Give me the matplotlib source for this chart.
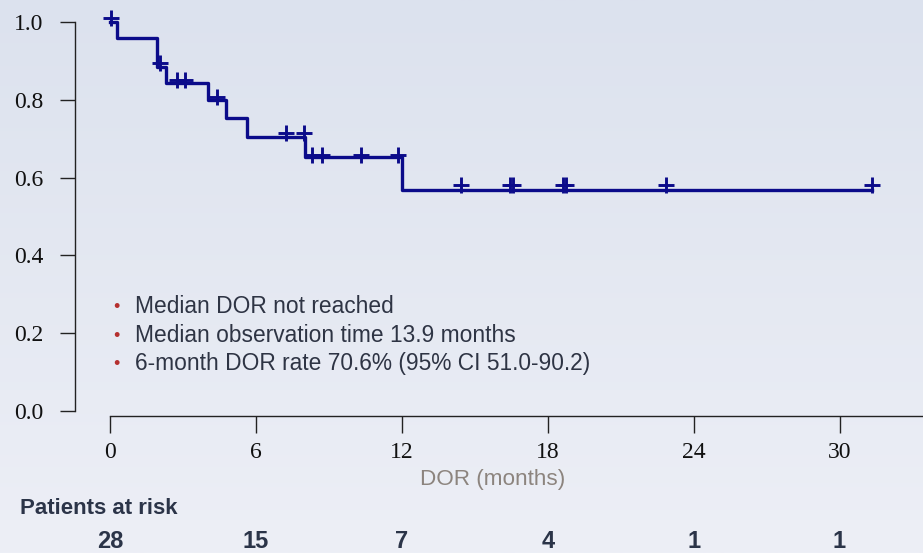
import matplotlib
matplotlib.use("Agg")
import matplotlib.pyplot as plt
import matplotlib.transforms as mtransforms
import numpy as np

# Kaplan-Meier step curve
step_times = [0, 0.27, 1.94, 2.30, 4.04, 4.79, 5.62, 8.01, 11.99, 31.33]
step_surv = [1.0, 0.960, 0.885, 0.842, 0.800, 0.752, 0.705, 0.654, 0.568, 0.568]

# censored observations
cens_times = [0.04, 2.06, 2.74, 3.08, 4.38, 7.23, 7.97, 8.32, 8.73, 10.34,
              11.85, 14.45, 16.45, 16.57, 18.64, 18.76, 22.88, 31.33]
cens_surv = [1.01, 0.895, 0.851, 0.851, 0.808, 0.714, 0.714, 0.658, 0.658,
             0.658, 0.658, 0.581, 0.581, 0.581, 0.581, 0.581, 0.581, 0.581]

xticks = [0, 6, 12, 18, 24, 30]
yticks = [0.0, 0.2, 0.4, 0.6, 0.8, 1.0]
at_risk = [28, 15, 7, 4, 1, 1]
notes = ["Median DOR not reached",
         "Median observation time 13.9 months",
         "6-month DOR rate 70.6% (95% CI 51.0-90.2)"]

W, H = 923, 553
fig = plt.figure(figsize=(W / 100, H / 100), dpi=100)

# slide-like background gradient
bg = fig.add_axes([0, 0, 1, 1], zorder=-10)
grad = np.linspace(0, 1, 256).reshape(-1, 1)
top = np.array([220, 226, 238]) / 255
bot = np.array([237, 239, 246]) / 255
img = top[None, None, :] * (1 - grad[:, :, None]) + bot[None, None, :] * grad[:, :, None]
bg.imshow(img, aspect="auto", extent=[0, 1, 0, 1])
bg.axis("off")

left_px, top_px, bottom_px = 75, 22, 416
ax = fig.add_axes([left_px / W, (H - bottom_px) / H, 1 - left_px / W,
                   (bottom_px - top_px) / H])
ax.patch.set_alpha(0)
ppm = (839.5 - 110) / 30.0
ax.set_xlim((left_px - 110) / ppm, (W - 110) / ppm)
ax.set_ylim(-(bottom_px - 411) / 389.0, 1.0)

navy = "#0b0b8a"
ax.step(step_times, step_surv, where="post", color=navy, lw=2.4,
        clip_on=False, zorder=3)
ax.plot(cens_times, cens_surv, ls="none", marker="+", color=navy,
        markersize=12, mew=2.1, clip_on=False, zorder=4)

for s in ["top", "right"]:
    ax.spines[s].set_visible(False)
ax.spines["left"].set_bounds(0, 1)
ax.spines["bottom"].set_bounds(0, ax.get_xlim()[1])
for s in ["left", "bottom"]:
    ax.spines[s].set_color("#222222")
    ax.spines[s].set_linewidth(1.0)

ax.set_xticks(xticks)
ax.set_xticklabels([str(t) for t in xticks])
ax.set_yticks(yticks)
ax.set_yticklabels(["%.1f" % v for v in yticks])
ax.tick_params(axis="y", length=11, width=1.0, color="#222222", pad=12,
               labelsize=17)
ax.tick_params(axis="x", length=12, width=1.0, color="#222222", pad=7,
               labelsize=17)
for lab in ax.get_xticklabels() + ax.get_yticklabels():
    lab.set_family("Liberation Serif")
    lab.set_color("#111111")

# bullet notes
text_col = "#2e3444"
for i, note in enumerate(notes):
    yb = (H - (313.3 + 28.3 * i)) / H
    fig.text(113 / W, yb + 1 / H, "\u2022", color="#b5302f", fontsize=13,
             family="Liberation Sans", va="baseline")
    fig.text(135 / W, yb, note, color=text_col, fontsize=16.4,
             family="Liberation Sans", va="baseline")

fig.text(493 / W, (H - 480) / H, "DOR (months)", color="#8c847e",
         fontsize=16.2, family="Liberation Sans", ha="center", va="center")

fig.text(20 / W, (H - 508) / H, "Patients at risk", color="#2b3448",
         fontsize=16, weight="bold", family="Liberation Sans", va="center")
trans = mtransforms.blended_transform_factory(ax.transData, fig.transFigure)
for t, n in zip(xticks, at_risk):
    ax.text(t, (H - 542) / H, str(n), transform=trans, ha="center",
            va="center", color="#2b3448", fontsize=17, weight="bold",
            family="Liberation Sans", clip_on=False)

fig.savefig("out.png", dpi=100)
